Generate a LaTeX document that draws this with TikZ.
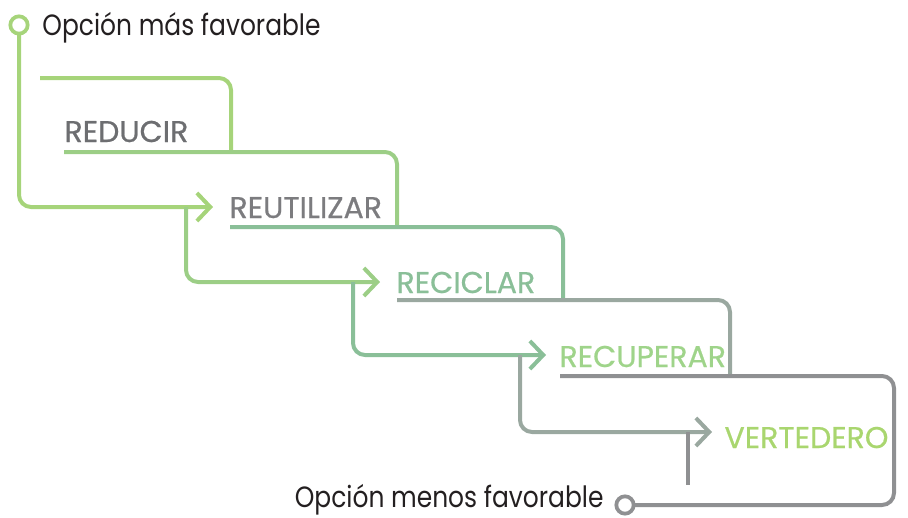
\documentclass[tikz,border=0pt]{standalone}
\usepackage{fontspec}
\setmainfont{Poppins}
\newfontfamily\stepfont[FakeBold=0.6]{Poppins}
\newfontfamily\endfont[FakeStretch=0.85]{Poppins}
\usetikzlibrary{arrows.meta}

\definecolor{gOne}{RGB}{166,212,122}
\definecolor{gTwo}{RGB}{156,206,134}
\definecolor{gThree}{RGB}{138,191,152}
\definecolor{gFour}{RGB}{154,168,160}
\definecolor{gFive}{RGB}{143,144,146}
\definecolor{txtGray}{RGB}{109,110,113}
\definecolor{txtBlack}{RGB}{35,31,32}
\definecolor{txtLime}{RGB}{169,214,111}
\definecolor{txtGreen}{RGB}{159,212,138}

\tikzset{every picture/.style={line width=0.75pt}}
\tikzset{
  stair/.style={line width=3pt, rounded corners=9pt},
  flow/.style={line width=3pt, rounded corners=9pt, -{Straight Barb[length=10pt,width=21pt,line width=3pt]}},
  steplabel/.style={anchor=base west, inner sep=0pt, font=\stepfont\fontsize{22.5}{22.5}\selectfont},
  endlabel/.style={anchor=base west, inner sep=0pt, text=txtBlack, font=\endfont\fontsize{22}{22}\selectfont},
  endpoint/.style={circle, draw, line width=2.8pt, minimum size=13pt, inner sep=0pt, fill=white}
}

\begin{document}
\begin{tikzpicture}[x=0.75pt,y=0.75pt,yscale=-1,xscale=1]
        \useasboundingbox (0,0) rectangle (908,518);

        % Text Node
        \node [endlabel] (best) at (42,35) {Opción más favorable};
        \node [endlabel, anchor=base east] (worst) at (604,507) {Opción menos favorable};
        \node [steplabel, text=txtGray] (reducir) at (64,142) {REDUCIR};
        \node [steplabel, text=txtGray!90!white] (reutilizar) at (229,218) {REUTILIZAR};
        \node [steplabel, text=gThree] (reciclar) at (396,293) {RECICLAR};
        \node [steplabel, text=txtGreen] (recuperar) at (559,367) {RECUPERAR};
        \node [steplabel, text=txtLime] (vertedero) at (724,448) {VERTEDERO};

        % Coordinates of the steps
        \coordinate (s0) at (40,78);
        \coordinate (s1) at (64,152);
        \coordinate (s2) at (230,227);
        \coordinate (s3) at (397,300);
        \coordinate (s4) at (560,376);
        \coordinate (a1) at (213,207);
        \coordinate (a2) at (380,282);
        \coordinate (a3) at (546,355);
        \coordinate (a4) at (712,432);
        \coordinate (tick) at (688,485);

        %Straight Lines: stairs
        \draw [stair, color=gOne] (s0) -- (231,78) -- (231,152);
        \draw [stair, color=gTwo] (s1) -- (397,152) -- (397,227);
        \draw [stair, color=gThree] (s2) -- (563,227) -- (563,300);
        \draw [stair, color=gFour] (s3) -- (730,300) -- (730,376);
        \draw [stair, color=gFive] (s4) -- (894,376) -- (894,505) -- (632,505);

        %Straight Lines: arrows
        \draw [flow, color=gOne] (19,31) -- (19,207) -- (a1);
        \draw [flow, color=gTwo] (a1 -| 186,0) -- (186,282) -- (a2);
        \draw [flow, color=gThree] (a2 -| 353,0) -- (353,355) -- (a3);
        \draw [flow, color=gFour] (a3 -| 520,0) -- (520,432) -- (a4);
        \draw [line width=3pt, color=gFive] (a4 -| tick) -- (tick);

        %Shape: Circle
        \node [endpoint, draw=gOne] (top) at (19,25) {};
        \node [endpoint, draw=gFive] (bottom) at (625,505) {};

\end{tikzpicture}
\end{document}
